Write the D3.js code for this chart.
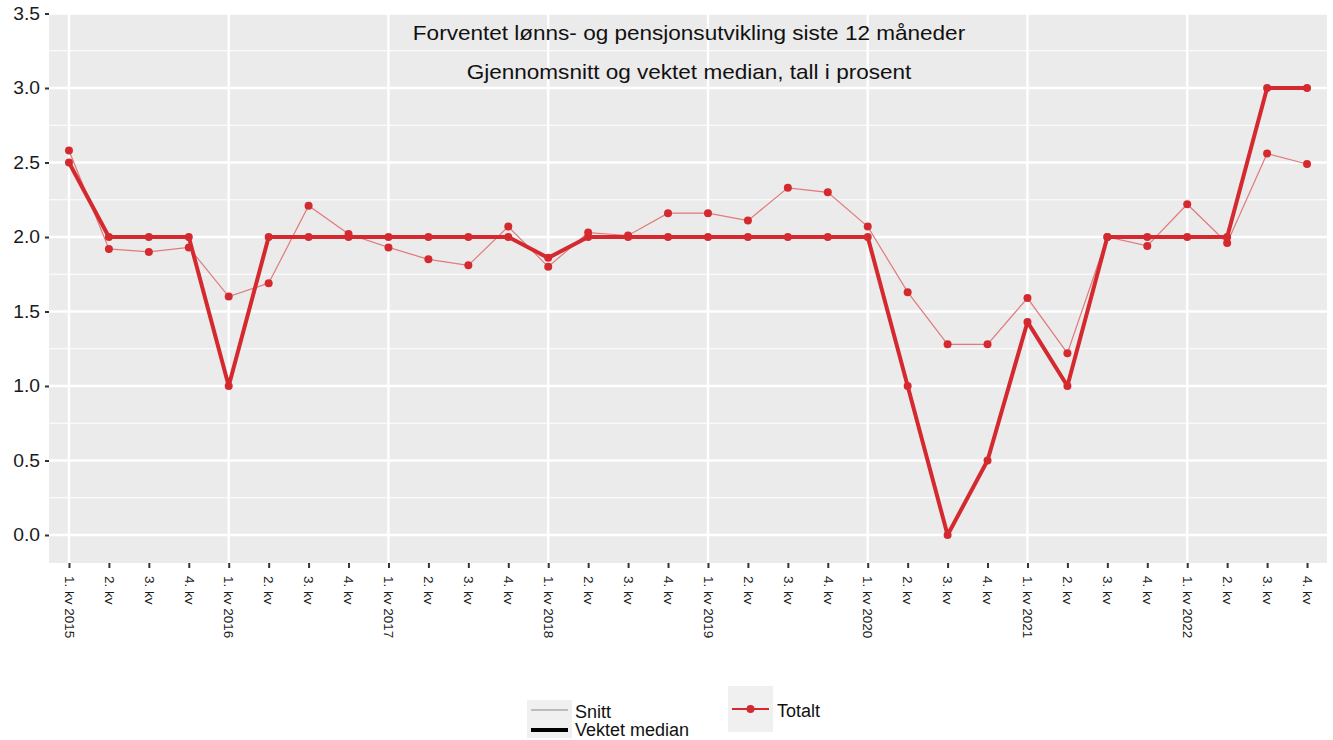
<!DOCTYPE html>
<html><head><meta charset="utf-8">
<script src="https://cdn.jsdelivr.net/npm/d3@7/dist/d3.min.js"></script>
<style>body{margin:0;background:#fff}svg{display:block;font-family:"Liberation Sans",Arial,sans-serif}</style>
</head><body><svg id="c" width="1333" height="740"></svg>
<script>
const years = [2015,2016,2017,2018,2019,2020,2021,2022];
const quarters = ["1. kv","2. kv","3. kv","4. kv"];
const categories = years.flatMap(y => quarters.map((q,i) => i===0 ? q+" "+y : q));
const snitt = [2.58,1.92,1.90,1.93, 1.60,1.69,2.21,2.02, 1.93,1.85,1.81,2.07, 1.80,2.03,2.01,2.16,
               2.16,2.11,2.33,2.30, 2.07,1.63,1.28,1.28, 1.59,1.22,2.00,1.94, 2.22,1.96,2.56,2.49];
const median = [2.5,2.0,2.0,2.0, 1.0,2.0,2.0,2.0, 2.0,2.0,2.0,2.0, 1.86,2.0,2.0,2.0,
                2.0,2.0,2.0,2.0, 2.0,1.0,0.0,0.5, 1.43,1.0,2.0,2.0, 2.0,2.0,3.0,3.0];
const yTicks = [0,0.5,1,1.5,2,2.5,3,3.5];
const yMinor = [0.25,0.75,1.25,1.75,2.25,2.75,3.25];
const title1 = "Forventet lønns- og pensjonsutvikling siste 12 måneder";
const title2 = "Gjennomsnitt og vektet median, tall i prosent";

const svg = d3.select("#c");
const L=49, R=1327, T=13, B=563;
const idx = categories.map((c,i)=>i);
const x = d3.scalePoint().domain(idx).range([L,R]).padding(0.5);
const y = d3.scaleLinear().domain([0,3.5]).range([535,13.5]);
const red="#d42a2f";

svg.append("rect").attr("x",L).attr("y",T).attr("width",R-L).attr("height",B-T).attr("fill","#ebebeb");
const g = svg.append("g");
g.selectAll(".mn").data(yMinor).join("line").attr("x1",L).attr("x2",R)
  .attr("y1",d=>y(d)).attr("y2",d=>y(d)).attr("stroke","#fff").attr("stroke-width",1.2);
g.selectAll(".mj").data(yTicks).join("line").attr("x1",L).attr("x2",R)
  .attr("y1",d=>y(d)).attr("y2",d=>y(d)).attr("stroke","#fff").attr("stroke-width",2.4);
g.selectAll(".vx").data(idx.filter(i=>i%4===0)).join("line")
  .attr("x1",d=>x(d)).attr("x2",d=>x(d)).attr("y1",T).attr("y2",B).attr("stroke","#fff").attr("stroke-width",2.4);

// y axis
const ya = svg.append("g").attr("transform",`translate(${L},0)`)
  .call(d3.axisLeft(y).tickValues(yTicks).tickFormat(d3.format(".1f")).tickSize(4).tickPadding(4));
ya.select(".domain").remove();
ya.selectAll("line").attr("stroke","#333").attr("stroke-width",2);
ya.selectAll("text").attr("font-size",17.5).attr("fill","#1a1a1a").attr("font-family","Liberation Sans, Arial, sans-serif")
  .attr("transform","scale(1.1,1)").attr("x",-8.2);

// x axis
const xa = svg.append("g").attr("transform",`translate(0,${B})`)
  .call(d3.axisBottom(x).tickSize(5).tickPadding(4).tickFormat(i=>categories[i]));
xa.select(".domain").remove();
xa.selectAll("line").attr("stroke","#333").attr("stroke-width",2);
xa.selectAll("text").attr("font-size",13.5).attr("fill","#1a1a1a").attr("font-family","Liberation Sans, Arial, sans-serif")
  .attr("transform","rotate(90)").attr("text-anchor","start").attr("dy","0.35em").attr("y",0).attr("x",13);

// titles
svg.append("text").attr("x",689).attr("y",40).attr("text-anchor","middle").attr("font-size",20.5)
  .attr("transform","translate(689,0) scale(1.1,1) translate(-689,0)").attr("fill","#111").text(title1);
svg.append("text").attr("x",689).attr("y",79).attr("text-anchor","middle").attr("font-size",20.5)
  .attr("transform","translate(689,0) scale(1.1,1) translate(-689,0)").attr("fill","#111").text(title2);

// lines
const line = d3.line().x((d,i)=>x(i)).y(d=>y(d));
svg.append("path").datum(snitt).attr("d",line).attr("fill","none").attr("stroke","#e07a7c").attr("stroke-width",1.2);
svg.append("path").datum(median).attr("d",line).attr("fill","none").attr("stroke",red).attr("stroke-width",4).attr("stroke-linejoin","round");
svg.append("g").selectAll("circle").data(snitt).join("circle").attr("cx",(d,i)=>x(i)).attr("cy",d=>y(d)).attr("r",4).attr("fill",red);
svg.append("g").selectAll("circle").data(median).join("circle").attr("cx",(d,i)=>x(i)).attr("cy",d=>y(d)).attr("r",4).attr("fill",red);

// legend
const lg = svg.append("g");
lg.append("rect").attr("x",527).attr("y",700).attr("width",45).attr("height",38).attr("fill","#f0f0f0");
lg.append("line").attr("x1",531).attr("x2",568).attr("y1",710).attr("y2",710).attr("stroke","#aaa").attr("stroke-width",1.5);
lg.append("line").attr("x1",531).attr("x2",568).attr("y1",730).attr("y2",730).attr("stroke","#000").attr("stroke-width",4);
lg.append("text").attr("x",575).attr("y",718).attr("font-size",18).attr("fill","#111").text("Snitt");
lg.append("text").attr("x",575).attr("y",736).attr("font-size",18).attr("fill","#111").text("Vektet median");
lg.append("rect").attr("x",728).attr("y",686).attr("width",45).attr("height",46).attr("fill","#f0f0f0");
lg.append("line").attr("x1",732).attr("x2",769).attr("y1",709).attr("y2",709).attr("stroke",red).attr("stroke-width",2);
lg.append("circle").attr("cx",750.5).attr("cy",709).attr("r",4).attr("fill",red);
lg.append("text").attr("x",777).attr("y",717).attr("font-size",18).attr("fill","#111").text("Totalt");
</script></body></html>
